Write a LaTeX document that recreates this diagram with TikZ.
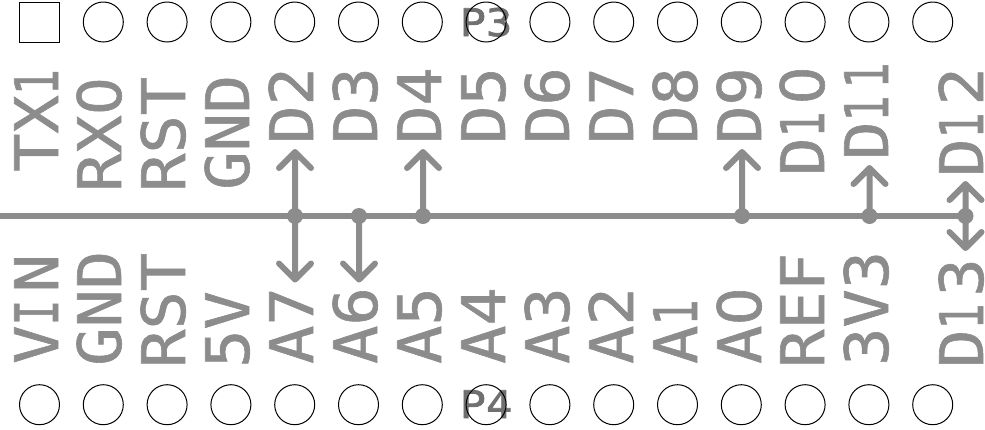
\documentclass[tikz,border=0pt]{standalone}
\usepackage{graphicx}
\usepackage{fontspec}
\setmainfont{DejaVu Sans Mono}
\newfontfamily\silkf[FakeBold=1.0,FakeStretch=1.06]{DejaVu Sans Mono}
\newfontfamily\reff[FakeBold=2.0,FakeStretch=1.15]{DejaVu Sans Mono}
\newfontfamily\zerof[FakeBold=1.0]{DejaVu Sans}
\newcommand{\zr}{\makebox[38.3pt][c]{\zerof 0}}
\newcommand{\nar}[1]{\makebox[33pt][l]{\scalebox{.68}[1]{#1}}}
\definecolor{silk}{HTML}{8C8C8C}
\definecolor{silkdark}{HTML}{707070}
\tikzset{
  x=1pt,y=-1pt,
  pad/.style={draw=black,line width=1pt,circle,minimum size=40pt,inner sep=0pt,fill=none},
  padsq/.style={draw=black,line width=1pt,rectangle,minimum size=40pt,inner sep=0pt},
  lab/.style={rotate=90,anchor=base west,inner sep=0pt,text=silk,font=\silkf\fontsize{60}{60}\selectfont},
  ref/.style={anchor=base,inner sep=0pt,text=silkdark,font=\reff\fontsize{38}{38}\selectfont},
  dot/.style={circle,fill=silk,minimum size=16pt,inner sep=0pt},
  wire/.style={draw=silk,line width=6pt,line cap=round,line join=round}
}
\begin{document}
\begin{tikzpicture}
\useasboundingbox (0,0) rectangle (985,429);
% reference labels, under the pads
\node[ref] (p3) at (486,36) {P3};
\node[ref] (p4) at (486,418) {P4};
% top row of pads
\node[padsq] (a0) at (39.5,22) {};
\foreach \i in {1,...,14}{
  \node[pad] (a\i) at ({39.5+63.8*\i},22) {};
  \node[pad] (b\i) at ({39.5+63.8*\i},404.7) {};
}
\node[pad] (b0) at (39.5,404.7) {};
% top labels
\node[lab] (tx) at (58,172) {TX\nar{1}};
\node[lab] (rx) at (121,192) {RX\zr};
\node[lab] (rs) at (185,192) {RST};
\node[lab] (gn) at (249,190) {GND};
\node[lab] (d2) at (313,144) {D2};
\node[lab] (d3) at (377,144) {D3};
\node[lab] (d4) at (441,144) {D4};
\node[lab] (d5) at (505,144) {D5};
\node[lab] (d6) at (569,144) {D6};
\node[lab] (d7) at (633,144) {D7};
\node[lab] (d8) at (697,144) {D8};
\node[lab] (d9) at (761,144) {D9};
\node[lab] (d10) at (824,176) {D\nar{1}\zr};
\node[lab] (d11) at (888,160) {D\nar{1}\nar{1}};
\node[lab] (d12) at (983,177) {D\nar{1}2};
% bottom labels
\node[lab] (vin) at (58,364) {V\nar{I}N};
\node[lab] (gn2) at (121,366) {GND};
\node[lab] (rs2) at (185,368) {RST};
\node[lab] (v5) at (249,368) {5V};
\node[lab] (a7) at (313,364) {A7};
\node[lab] (a6) at (377,364) {A6};
\node[lab] (a5) at (441,364) {A5};
\node[lab] (a4) at (505,364) {A4};
\node[lab] (a3) at (569,364) {A3};
\node[lab] (a2) at (633,364) {A2};
\node[lab] (a1x) at (697,364) {A\nar{1}};
\node[lab] (a0x) at (761,364) {A\zr};
\node[lab] (ref) at (824,368) {REF};
\node[lab] (v3) at (888,366) {3V3};
\node[lab] (d13) at (983,368) {D\nar{1}3};
% bus
\coordinate (busL) at (0,216);
\node[dot] (j1) at (295,216) {};
\node[dot] (j2) at (359,216) {};
\node[dot] (j3) at (423,216) {};
\node[dot] (j4) at (742,216) {};
\node[dot] (j5) at (869.5,216) {};
\node[dot] (j6) at (965.5,216) {};
\draw[wire,line cap=butt] (busL) -- (j6.center);
% arrow tips
\coordinate (t1u) at (295,152);
\coordinate (t1d) at (295,279.5);
\coordinate (t2d) at (359,279.5);
\coordinate (t3u) at (423,152);
\coordinate (t4u) at (742,152);
\coordinate (t5u) at (869.5,168);
\coordinate (t6u) at (965.5,184);
\coordinate (t6d) at (965.5,248);
\foreach \j/\t in {j1/t1u,j3/t3u,j4/t4u,j5/t5u,j6/t6u}
  \draw[wire] (\j.center) -- (\t) ++(-16,16) -- (\t) -- ++(16,16);
\foreach \j/\t in {j1/t1d,j2/t2d,j6/t6d}
  \draw[wire] (\j.center) -- (\t) ++(-16,-16) -- (\t) -- ++(16,-16);
\end{tikzpicture}
\end{document}
